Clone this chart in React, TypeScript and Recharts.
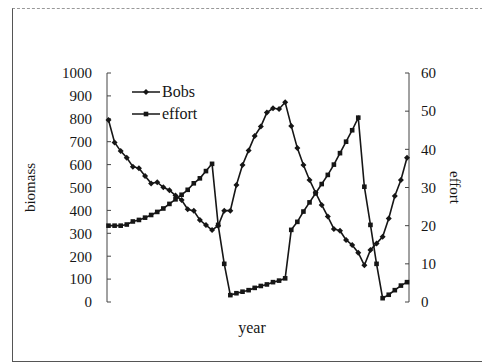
import { Line, LineChart, XAxis, YAxis } from 'recharts'

const years = Array.from({ length: 50 }, (_, i) => i + 1)

const bobs = [
  795, 697, 659, 630, 591, 584, 550, 518, 523, 501,
  488, 465, 445, 405, 398, 358, 336, 314, 333, 399,
  399, 511, 598, 662, 725, 766, 827, 846, 843, 872,
  769, 672, 598, 533, 477, 424, 373, 319, 311, 271,
  249, 215, 160, 227, 256, 285, 365, 463, 533, 630,
]

const effort = [
  20, 20, 20, 20.3, 21.1, 21.5, 22.1, 22.8, 23.6, 24.5,
  25.7, 26.9, 28.1, 29.4, 31.1, 32.4, 34.3, 36.2, 20.2, 10,
  1.8, 2.3, 2.7, 3.1, 3.7, 4.2, 4.6, 5.2, 5.6, 6.2,
  18.9, 21, 23.7, 26.1, 28.5, 30.9, 33.3, 36, 39, 42,
  45, 48.3, 30.2, 20.2, 10, 1, 1.9, 3.1, 4.3, 5.2,
]

const biomassTicks = [0, 100, 200, 300, 400, 500, 600, 700, 800, 900, 1000]
const effortTicks = [0, 10, 20, 30, 40, 50, 60]

const data = years.map((year, i) => ({ year, Bobs: bobs[i], effort: effort[i] }))

const ink = '#161616'
const font = '"Liberation Serif", "Times New Roman", serif'

function Diamond(props: any) {
  const { cx, cy, index } = props
  if (cx == null || cy == null) return null
  return <path key={`d${index}`} d={`M${cx},${cy - 3}L${cx + 3},${cy}L${cx},${cy + 3}L${cx - 3},${cy}Z`} fill={ink} />
}

function Square(props: any) {
  const { cx, cy, index } = props
  if (cx == null || cy == null) return null
  return <rect key={`s${index}`} x={cx - 2.3} y={cy - 2.3} width={4.6} height={4.6} fill={ink} />
}

// legend drawn by hand, sits inside the plot at top-left
function LegendBox() {
  const items = [
    { name: 'Bobs', Mark: Diamond },
    { name: 'effort', Mark: Square },
  ]
  return (
    <div style={{ position: 'absolute', left: 132, top: 81 }}>
      {items.map(({ name, Mark }) => (
        <div key={name} style={{ display: 'flex', alignItems: 'center', height: 22 }}>
          <svg width={30} height={10}>
            <line x1={0} y1={5} x2={28} y2={5} stroke={ink} strokeWidth={1.5} />
            <Mark cx={14} cy={5} index={0} />
          </svg>
          <span style={{ fontFamily: font, fontSize: 16, color: ink }}>{name}</span>
        </div>
      ))}
    </div>
  )
}

function App() {
  return (
    <div style={{ position: 'absolute', left: 0, top: 0, width: 482, height: 363, background: '#fff' }}>
      <div
        style={{
          position: 'absolute', left: 12, top: 8, width: 470, height: 352,
          borderLeft: '1px solid #555', borderTop: '1px dashed #999', borderBottom: '1px solid #555',
        }}
      />
      <LineChart width={482} height={363} data={data} margin={{ top: 73, right: 23, bottom: 31, left: 47 }}>
        <XAxis
          dataKey="year"
          type="number"
          domain={[1, 50]}
          padding={{ left: 1.5, right: 2 }}
          axisLine={false}
          tickLine={false}
          tick={false}
          height={30}
          label={{
            content: ({ viewBox }: any) => (
              <text x={viewBox.x + viewBox.width / 2 - 6} y={viewBox.y + 31} textAnchor="middle" fontFamily={font} fontSize={16} fill={ink}>
                year
              </text>
            ),
          }}
        />
        <YAxis
          yAxisId="left"
          domain={[0, 1000]}
          ticks={biomassTicks}
          interval={0}
          width={60}
          axisLine={{ stroke: '#444', strokeWidth: 1 }}
          tickLine={{ stroke: '#444' }}
          tickSize={-4}
          tickMargin={19}
          tick={{ fill: ink, fontSize: 15, fontFamily: font }}
          label={{
            content: ({ viewBox }: any) => {
              const x = viewBox.x - 17
              const y = viewBox.y + viewBox.height / 2
              return (
                <text x={x} y={y} transform={`rotate(-90 ${x} ${y})`} textAnchor="middle" dominantBaseline="central" fontFamily={font} fontSize={15} fill={ink}>
                  biomass
                </text>
              )
            },
          }}
        />
        <YAxis
          yAxisId="right"
          orientation="right"
          domain={[0, 60]}
          ticks={effortTicks}
          interval={0}
          width={50}
          axisLine={{ stroke: '#444', strokeWidth: 1 }}
          tickLine={{ stroke: '#444' }}
          tickSize={-4}
          tickMargin={16}
          tick={{ fill: ink, fontSize: 15, fontFamily: font }}
          label={{
            content: ({ viewBox }: any) => {
              const x = viewBox.x + 46
              const y = viewBox.y + viewBox.height / 2
              return (
                <text x={x} y={y} transform={`rotate(90 ${x} ${y})`} textAnchor="middle" dominantBaseline="central" fontFamily={font} fontSize={15} fill={ink}>
                  effort
                </text>
              )
            },
          }}
        />
        <Line yAxisId="left" dataKey="Bobs" stroke={ink} strokeWidth={1.6} dot={Diamond} activeDot={false} isAnimationActive={false} />
        <Line yAxisId="right" dataKey="effort" stroke={ink} strokeWidth={1.6} dot={Square} activeDot={false} isAnimationActive={false} />
      </LineChart>
      <LegendBox />
    </div>
  )
}

export default App
